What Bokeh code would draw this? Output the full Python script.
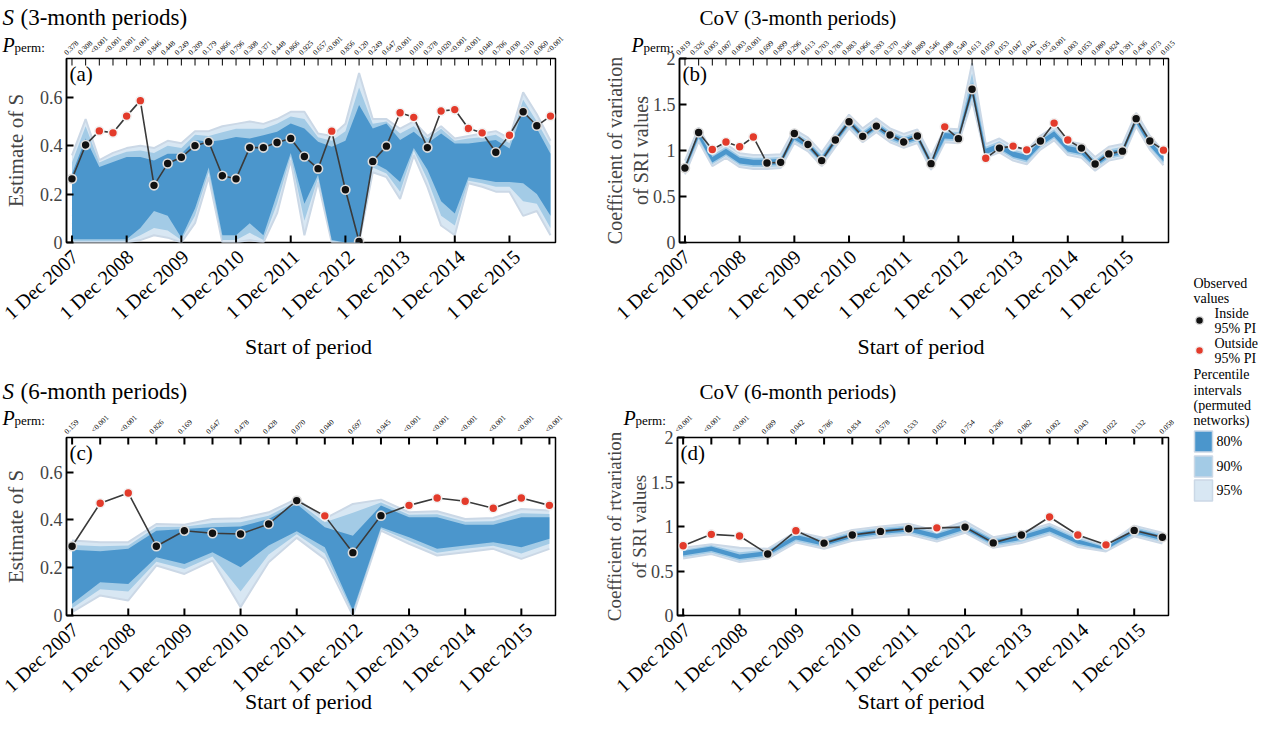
import math
from bokeh.plotting import figure
from bokeh.models import Range1d, FixedTicker, Label
from bokeh.layouts import row, column
from bokeh.embed import file_html
from bokeh.resources import INLINE
from bokeh.core.properties import value

FONT = "Liberation Serif"
C80, C90, C95 = "#4b96cc", "#a3cbe6", "#d8e7f3"
EDGE = "#cbd8e6"
RED = "#e33b2b"

# ---------------- data ----------------
year_ticks = [0, 12, 24, 36, 48, 60, 72, 84, 96]
year_labels = ["1 Dec 2007", "1 Dec 2008", "1 Dec 2009", "1 Dec 2010", "1 Dec 2011",
               "1 Dec 2012", "1 Dec 2013", "1 Dec 2014", "1 Dec 2015"]

months3 = [3 * i for i in range(36)]   # start of each 3-month period (months after 1 Dec 2007)
months6 = [6 * i for i in range(18)]   # start of each 6-month period

# (a) S, 3-month periods
s3_obs = [0.263, 0.403, 0.461, 0.453, 0.522, 0.586, 0.236, 0.326, 0.352, 0.400, 0.416, 0.276,
          0.263, 0.392, 0.392, 0.413, 0.430, 0.355, 0.305, 0.460, 0.218, 0.004, 0.335, 0.398,
          0.536, 0.517, 0.392, 0.543, 0.549, 0.471, 0.453, 0.373, 0.443, 0.540, 0.482, 0.522]
s3_out = [2, 3, 4, 5, 19, 24, 25, 27, 28, 29, 30, 32, 35]
s3_hi80 = [0.284, 0.430, 0.312, 0.333, 0.353, 0.353, 0.339, 0.367, 0.367, 0.423, 0.416, 0.423,
           0.436, 0.430, 0.443, 0.457, 0.492, 0.471, 0.416, 0.395, 0.420, 0.568, 0.471, 0.492,
           0.423, 0.457, 0.409, 0.450, 0.409, 0.409, 0.416, 0.423, 0.388, 0.547, 0.471, 0.367]
s3_hi90 = [0.33, 0.48, 0.33, 0.355, 0.375, 0.38, 0.37, 0.40, 0.39, 0.445, 0.44, 0.455,
           0.47, 0.47, 0.47, 0.49, 0.52, 0.51, 0.435, 0.42, 0.46, 0.64, 0.49, 0.50,
           0.45, 0.48, 0.43, 0.47, 0.42, 0.43, 0.435, 0.445, 0.41, 0.59, 0.50, 0.40]
s3_hi95 = [0.36, 0.51, 0.34, 0.37, 0.39, 0.40, 0.39, 0.42, 0.41, 0.46, 0.46, 0.48,
           0.49, 0.50, 0.49, 0.51, 0.54, 0.54, 0.45, 0.44, 0.49, 0.70, 0.51, 0.51,
           0.47, 0.50, 0.44, 0.48, 0.43, 0.44, 0.45, 0.46, 0.43, 0.62, 0.53, 0.42]
s3_lo80 = [0.013, 0.013, 0.013, 0.013, 0.013, 0.06, 0.13, 0.11, 0.02, 0.14, 0.31, 0.03,
           0.03, 0.08, 0.03, 0.20, 0.37, 0.16, 0.28, 0.01, 0.0, 0.0, 0.33, 0.30,
           0.25, 0.39, 0.30, 0.17, 0.12, 0.27, 0.26, 0.25, 0.25, 0.245, 0.20, 0.11]
s3_lo90 = [0.005, 0.005, 0.005, 0.005, 0.005, 0.03, 0.06, 0.05, 0.01, 0.11, 0.29, 0.01,
           0.01, 0.04, 0.01, 0.16, 0.355, 0.09, 0.265, 0.005, 0.0, 0.0, 0.31, 0.285,
           0.21, 0.38, 0.26, 0.11, 0.07, 0.255, 0.245, 0.23, 0.23, 0.17, 0.16, 0.06]
s3_lo95 = [0.0, 0.0, 0.0, 0.0, 0.0, 0.01, 0.03, 0.02, 0.0, 0.08, 0.27, 0.0,
           0.0, 0.01, 0.0, 0.12, 0.34, 0.03, 0.25, 0.0, 0.0, 0.0, 0.29, 0.27,
           0.18, 0.36, 0.23, 0.07, 0.03, 0.245, 0.23, 0.21, 0.21, 0.11, 0.13, 0.03]
s3_p = ["0.378", "0.308", "<0.001", "<0.001", "<0.001", "<0.001", "0.846", "0.448", "0.249",
        "0.209", "0.179", "0.866", "0.796", "0.308", "0.371", "0.448", "0.866", "0.925",
        "0.657", "<0.001", "0.856", "0.120", "0.249", "0.647", "<0.001", "0.010", "0.378",
        "0.020", "<0.001", "<0.001", "0.040", "0.706", "0.030", "0.310", "0.060", "<0.001"]

# (b) CoV, 3-month periods
cv3_obs = [0.809, 1.195, 1.011, 1.092, 1.040, 1.147, 0.864, 0.871, 1.184, 1.066, 0.890, 1.114,
           1.313, 1.154, 1.265, 1.169, 1.092, 1.158, 0.857, 1.257, 1.129, 1.665, 0.915, 1.026,
           1.048, 1.007, 1.103, 1.298, 1.114, 1.026, 0.853, 0.963, 0.993, 1.346, 1.103, 1.004]
cv3_out = [2, 3, 4, 5, 19, 22, 24, 25, 27, 28, 35]
cv3_lo95 = [0.74, 1.10, 0.83, 0.92, 0.82, 0.80, 0.80, 0.81, 1.08, 0.99, 0.83, 1.04,
            1.24, 1.09, 1.20, 1.09, 1.03, 1.08, 0.79, 1.09, 1.08, 1.54, 0.92, 0.98,
            0.89, 0.85, 1.01, 1.11, 0.95, 0.92, 0.78, 0.89, 0.92, 1.26, 1.01, 0.84]
cv3_lo90 = [0.76, 1.12, 0.85, 0.94, 0.84, 0.82, 0.82, 0.83, 1.10, 1.01, 0.85, 1.06,
            1.26, 1.11, 1.22, 1.11, 1.05, 1.10, 0.81, 1.11, 1.10, 1.57, 0.94, 1.00,
            0.91, 0.87, 1.03, 1.13, 0.97, 0.94, 0.80, 0.91, 0.94, 1.28, 1.03, 0.86]
cv3_lo80 = [0.78, 1.14, 0.87, 0.96, 0.86, 0.84, 0.84, 0.85, 1.12, 1.03, 0.87, 1.08,
            1.28, 1.13, 1.24, 1.13, 1.07, 1.12, 0.83, 1.13, 1.12, 1.60, 0.96, 1.02,
            0.93, 0.89, 1.05, 1.15, 0.99, 0.96, 0.82, 0.93, 0.96, 1.30, 1.05, 0.88]
cv3_hi80 = [0.84, 1.20, 0.93, 1.02, 0.92, 0.90, 0.90, 0.91, 1.18, 1.09, 0.93, 1.14,
            1.34, 1.19, 1.30, 1.19, 1.13, 1.18, 0.89, 1.19, 1.18, 1.74, 1.02, 1.08,
            0.99, 0.95, 1.11, 1.21, 1.05, 1.02, 0.88, 0.99, 1.02, 1.36, 1.11, 0.94]
cv3_hi90 = [0.86, 1.22, 0.95, 1.04, 0.94, 0.92, 0.92, 0.93, 1.20, 1.11, 0.95, 1.16,
            1.36, 1.21, 1.32, 1.21, 1.15, 1.20, 0.91, 1.21, 1.20, 1.84, 1.04, 1.10,
            1.01, 0.97, 1.13, 1.23, 1.07, 1.04, 0.90, 1.01, 1.04, 1.38, 1.13, 0.96]
cv3_hi95 = [0.89, 1.25, 0.98, 1.07, 0.97, 0.95, 0.95, 0.96, 1.23, 1.14, 0.98, 1.19,
            1.39, 1.24, 1.35, 1.24, 1.18, 1.23, 0.94, 1.24, 1.23, 1.95, 1.07, 1.13,
            1.04, 1.00, 1.16, 1.26, 1.10, 1.07, 0.93, 1.04, 1.07, 1.41, 1.16, 0.99]
cv3_p = ["0.819", "0.326", "0.005", "0.007", "0.003", "<0.001", "0.699", "0.899", "0.296",
         "0.613", "0.703", "0.783", "0.883", "0.966", "0.393", "0.370", "0.346", "0.889",
         "0.546", "0.008", "0.540", "0.613", "0.050", "0.053", "0.047", "0.042", "0.195",
         "<0.001", "0.003", "0.053", "0.080", "0.824", "0.391", "0.436", "0.073", "0.015"]

# (c) S, 6-month periods
s6_obs = [0.290, 0.470, 0.513, 0.290, 0.355, 0.344, 0.341, 0.383, 0.481, 0.417, 0.263, 0.418,
          0.461, 0.492, 0.478, 0.449, 0.492, 0.461]
s6_out = [1, 2, 9, 12, 13, 14, 15, 16, 17]
s6_hi80 = [0.275, 0.269, 0.279, 0.355, 0.362, 0.369, 0.372, 0.404, 0.467, 0.369, 0.334, 0.460,
           0.411, 0.411, 0.380, 0.380, 0.411, 0.411]
s6_hi90 = [0.295, 0.290, 0.293, 0.370, 0.371, 0.387, 0.390, 0.418, 0.478, 0.390, 0.430, 0.473,
           0.422, 0.424, 0.392, 0.394, 0.428, 0.425]
s6_hi95 = [0.314, 0.307, 0.307, 0.383, 0.380, 0.404, 0.407, 0.432, 0.488, 0.405, 0.467, 0.485,
           0.432, 0.436, 0.404, 0.408, 0.446, 0.439]
s6_lo80 = [0.049, 0.139, 0.132, 0.244, 0.216, 0.265, 0.202, 0.293, 0.353, 0.286, 0.021, 0.369,
           0.328, 0.279, 0.293, 0.307, 0.286, 0.321]
s6_lo90 = [0.030, 0.110, 0.100, 0.225, 0.195, 0.247, 0.100, 0.255, 0.340, 0.260, 0.010, 0.362,
           0.313, 0.263, 0.279, 0.292, 0.260, 0.300]
s6_lo95 = [0.014, 0.084, 0.063, 0.209, 0.174, 0.230, 0.035, 0.223, 0.325, 0.237, 0.000, 0.355,
           0.300, 0.251, 0.265, 0.279, 0.237, 0.279]
s6_p = ["0.159", "<0.001", "<0.001", "0.826", "0.169", "0.647", "0.478", "0.428", "0.070",
        "0.040", "0.697", "0.945", "<0.001", "<0.001", "<0.001", "<0.001", "<0.001", "<0.001"]

# (d) CoV, 6-month periods
cv6_obs = [0.783, 0.912, 0.893, 0.691, 0.952, 0.813, 0.904, 0.945, 0.974, 0.985, 0.993, 0.816,
           0.904, 1.107, 0.904, 0.794, 0.956, 0.879]
cv6_out = [0, 1, 2, 4, 9, 13, 14, 15]
cv6_lo95 = [0.64, 0.69, 0.60, 0.64, 0.82, 0.75, 0.84, 0.88, 0.91, 0.83, 0.93, 0.76,
            0.815, 0.91, 0.77, 0.72, 0.89, 0.81]
cv6_lo90 = [0.655, 0.705, 0.615, 0.655, 0.835, 0.765, 0.855, 0.895, 0.925, 0.845, 0.945, 0.775,
            0.83, 0.925, 0.785, 0.73, 0.905, 0.825]
cv6_lo80 = [0.675, 0.725, 0.635, 0.675, 0.855, 0.785, 0.875, 0.915, 0.945, 0.865, 0.965, 0.795,
            0.85, 0.945, 0.805, 0.74, 0.925, 0.845]
cv6_hi80 = [0.725, 0.775, 0.685, 0.725, 0.905, 0.835, 0.925, 0.965, 0.995, 0.915, 1.015, 0.845,
            0.90, 0.995, 0.855, 0.765, 0.975, 0.895]
cv6_hi90 = [0.74, 0.79, 0.71, 0.74, 0.925, 0.855, 0.945, 0.985, 1.015, 0.935, 1.035, 0.865,
            0.92, 1.015, 0.875, 0.775, 0.995, 0.915]
cv6_hi95 = [0.76, 0.80, 0.76, 0.75, 0.94, 0.87, 0.96, 1.00, 1.03, 0.95, 1.06, 0.88,
            0.935, 1.03, 0.89, 0.785, 1.01, 0.93]
cv6_p = ["<0.001", "<0.001", "<0.001", "0.689", "0.042", "0.786", "0.834", "0.578", "0.533",
         "0.025", "0.754", "0.206", "0.082", "0.002", "0.043", "0.022", "0.132", "0.058"]

s_ticks, s_tick_labels = [0, 0.2, 0.4, 0.6], ["0", "0.2", "0.4", "0.6"]
cv_ticks, cv_tick_labels = [0, 0.5, 1, 1.5, 2], ["0", "0.5", "1", "1.5", "2"]

# ---------------- layout constants (pixels) ----------------
COL1_W, BL1, FW1, BR1 = 600, 61, 494, 45
COL2_W, BL2, FW2, BR2 = 578, 73, 495, 10
HEAD1, FH1, FOOT1 = 56, 184, 124
HEAD2, FH2, FOOT2 = 67, 178, 99
PAD, OVER = 12, 10      # panel top/bottom border, and how much of it overlaps its neighbours
XR_TOP = (-1.2, 106.1)
XR_BOT = (-1.2, 103.3)


def bare(width, height, xr, yr):
    f = figure(width=width, height=height, x_range=Range1d(*xr), y_range=Range1d(*yr),
               title=None, output_backend="svg", toolbar_location=None,
               x_axis_location=None, y_axis_location=None,
               min_border_left=0, min_border_right=0, min_border_top=0, min_border_bottom=0)
    f.grid.visible = False
    f.outline_line_color = None
    f.border_fill_alpha = 0
    f.background_fill_alpha = 0
    return f


def lab(p, x, y, text, size, style="normal", baseline="alphabetic", align="left"):
    p.add_layout(Label(x=x, y=y, x_units="screen", y_units="screen", text=text,
                       text_font=FONT, text_font_size=size, text_font_style=style,
                       text_baseline=baseline, text_align=align, text_color="black"))


def ext_range(xr, lead, fw, br):
    scale = fw / (xr[1] - xr[0])
    return (xr[0] - lead / scale, xr[1] + br / scale)


def header(width, height, xr, lead, fw, br, x, pvals, texts):
    h = bare(width, height, ext_range(xr, lead, fw, br), (0, height))
    h.text(x=x, y=[1] * len(x), text=pvals, angle=math.pi / 4, text_font=value(FONT),
           text_font_size="7.5px", text_align="left", text_baseline="bottom",
           text_color="black")
    for t in texts:
        lab(h, *t)
    return h


def footer(width, height, xr, lead, fw, br, label_y):
    f = bare(width, height, ext_range(xr, lead, fw, br), (0, height))
    f.text(x=year_ticks, y=[height - 9] * len(year_ticks), text=year_labels, angle=0.74,
           x_offset=8, text_font=value(FONT), text_font_size="20px", text_align="right",
           text_baseline="middle", text_color="black")
    lab(f, lead + fw / 2, label_y, "Start of period", "22px", baseline="middle", align="center")
    return f


def panel(width, bl, br, fh, xr, yr, x, bands, obs, outside, yticks, yticklabels,
          ylabel, ylabel_size, ylabel_standoff, letter, tick_w):
    p = figure(width=width, height=fh + 2 * PAD, x_range=Range1d(*xr), y_range=Range1d(*yr),
               title=None, output_backend="svg", toolbar_location=None, x_axis_location=None,
               min_border_left=bl, min_border_right=br, min_border_top=PAD,
               min_border_bottom=PAD, margin=(-OVER, 0, -OVER, 0))
    p.grid.visible = False
    p.border_fill_alpha = 0
    p.background_fill_color = "white"
    p.outline_line_color = "black"
    p.outline_line_width = 1.5
    p.outline_line_alpha = 1.0
    lo95, lo90, lo80, hi80, hi90, hi95 = bands
    p.varea(x=x, y1=lo95, y2=hi95, fill_color=C95)
    p.line(x, hi95, line_color=EDGE, line_width=2)
    p.line(x, lo95, line_color=EDGE, line_width=2)
    p.varea(x=x, y1=lo90, y2=hi90, fill_color=C90)
    p.varea(x=x, y1=lo80, y2=hi80, fill_color=C80)
    p.line(x, obs, line_color="#3a3a3a", line_width=1.6)
    xin = [x[i] for i in range(len(x)) if i not in outside]
    yin = [obs[i] for i in range(len(x)) if i not in outside]
    xo = [x[i] for i in outside]
    yo = [obs[i] for i in outside]
    p.scatter(xin, yin, size=9, fill_color="#111111", line_color="#dcdcdc", line_width=1.6)
    p.scatter(xo, yo, size=9, fill_color=RED, line_color="#f2f2f2", line_width=1.6)
    # inward ticks: one per period on the top edge, one per year on the bottom edge
    p.scatter(x, [yr[1]] * len(x), marker="dash", angle=math.pi / 2, size=14,
              line_color="black", line_width=tick_w)
    p.scatter(year_ticks, [yr[0]] * len(year_ticks), marker="dash", angle=math.pi / 2,
              size=14, line_color="black", line_width=2)

    ya = p.yaxis[0]
    ya.ticker = FixedTicker(ticks=yticks)
    ya.major_label_overrides = dict(zip(yticks, yticklabels))
    ya.major_label_text_font = FONT
    ya.major_label_text_font_size = "18px"
    ya.major_label_standoff = 4
    ya.axis_label = ylabel
    ya.axis_label_standoff = ylabel_standoff
    ya.axis_label_text_font = FONT
    ya.axis_label_text_font_size = ylabel_size
    ya.axis_label_text_font_style = "normal"
    ya.major_tick_in = 7
    ya.major_tick_out = 0
    ya.major_tick_line_width = 2
    ya.minor_tick_line_color = None
    ya.axis_line_width = 1.5
    lab(p, 3, fh - 3, letter, "21px", baseline="top")
    return p


# ---------------- panels ----------------
pa = panel(COL1_W, BL1, BR1, FH1, XR_TOP, (0, 0.76), months3,
           (s3_lo95, s3_lo90, s3_lo80, s3_hi80, s3_hi90, s3_hi95), s3_obs, s3_out,
           s_ticks, s_tick_labels, "Estimate of S", "21px", 9, "(a)", 1)
pb = panel(COL2_W, BL2, BR2, FH1, XR_TOP, (0, 2), months3,
           (cv3_lo95, cv3_lo90, cv3_lo80, cv3_hi80, cv3_hi90, cv3_hi95), cv3_obs, cv3_out,
           cv_ticks, cv_tick_labels, "Coefficient of variation\nof SRI values", "20px", -2,
           "(b)", 1)
pc = panel(COL1_W, BL1, BR1, FH2, XR_BOT, (0, 0.745), months6,
           (s6_lo95, s6_lo90, s6_lo80, s6_hi80, s6_hi90, s6_hi95), s6_obs, s6_out,
           s_ticks, s_tick_labels, "Estimate of S", "21px", 9, "(c)", 2)
pd_ = panel(COL2_W, BL2, BR2, FH2, XR_BOT, (0, 2), months6,
            (cv6_lo95, cv6_lo90, cv6_lo80, cv6_hi80, cv6_hi90, cv6_hi95), cv6_obs, cv6_out,
            cv_ticks, cv_tick_labels, "Coefficient of rtvariation\nof SRI values", "19px", -2,
            "(d)", 2)

# ---------------- headers (titles and P values) and footers (dates) ----------------
ha = header(COL1_W, HEAD1, XR_TOP, BL1, FW1, BR1, months3, s3_p, [
    (2, 39, "S", "23px", "italic"),
    (20, 39, "(3-month periods)", "23px"),
    (2, 12, "P", "20px", "italic"),
    (14, 9, "perm:", "13px")])
hb = header(COL2_W, HEAD1, XR_TOP, BL2, FW2, BR2, months3, cv3_p, [
    (99, 39, "CoV (3-month periods)", "21px"),
    (31, 12, "P", "20px", "italic"),
    (43, 9, "perm:", "13px")])
hc = header(COL1_W, HEAD2, XR_BOT, BL1, FW1, BR1, months6, s6_p, [
    (2, 44, "S", "23px", "italic"),
    (20, 44, "(6-month periods)", "23px"),
    (2, 18, "P", "20px", "italic"),
    (14, 15, "perm:", "13px")])
hd = header(COL2_W, HEAD2, XR_BOT, BL2, FW2, BR2, months6, cv6_p, [
    (99, 44, "CoV (6-month periods)", "21px"),
    (23, 18, "P", "20px", "italic"),
    (35, 15, "perm:", "13px")])

fa = footer(COL1_W, FOOT1, XR_TOP, BL1, FW1, BR1, 22)
fb = footer(COL2_W, FOOT1, XR_TOP, BL2, FW2, BR2, 22)
fc = footer(COL1_W, FOOT2, XR_BOT, BL1, FW1, BR1, 15)
fd = footer(COL2_W, FOOT2, XR_BOT, BL2, FW2, BR2, 15)

# ---------------- legend column ----------------
leg_text = ["Observed", "values", "Inside", "95% PI", "Outside", "95% PI",
            "Percentile", "intervals", "(permuted", "networks)", "80%", "90%", "95%"]
leg_x = [15, 15, 36, 36, 36, 36, 15, 15, 15, 15, 38, 38, 38]
leg_y = [433, 418, 403, 388, 373, 358, 342, 326, 311, 296, 275, 250, 226]
sw_colors = [C80, C90, C95]
LEG_H = HEAD1 + FH1 + 4 + FOOT1 + HEAD2 + FH2 + 4 + FOOT2

lg = bare(80, LEG_H, (0, 80), (0, LEG_H))
lg.text(x=leg_x, y=leg_y, text=leg_text, text_font=value(FONT), text_font_size="14px",
        text_baseline="middle", text_align="left", text_color="black")
lg.scatter([21], [396], size=8, fill_color="#111111", line_color="#dcdcdc", line_width=1.5)
lg.scatter([21], [366], size=8, fill_color=RED, line_color="#f2f2f2", line_width=1.5)
lg.rect(x=[25, 25, 25], y=[275, 250, 226], width=18, height=21, fill_color=sw_colors,
        line_color="#cbd8e6", line_width=1.5)

# each figure sits in its own row so that the column does not align their frames;
# the panels overlap header and footer by OVER px (transparent borders) so edge tick labels show
col1 = column(row(ha), row(pa), row(fa), row(hc), row(pc), row(fc))
col2 = column(row(hb), row(pb), row(fb), row(hd), row(pd_), row(fd))
layout = row(col1, col2, lg)
open("out.html", "w").write(file_html(layout, INLINE))
